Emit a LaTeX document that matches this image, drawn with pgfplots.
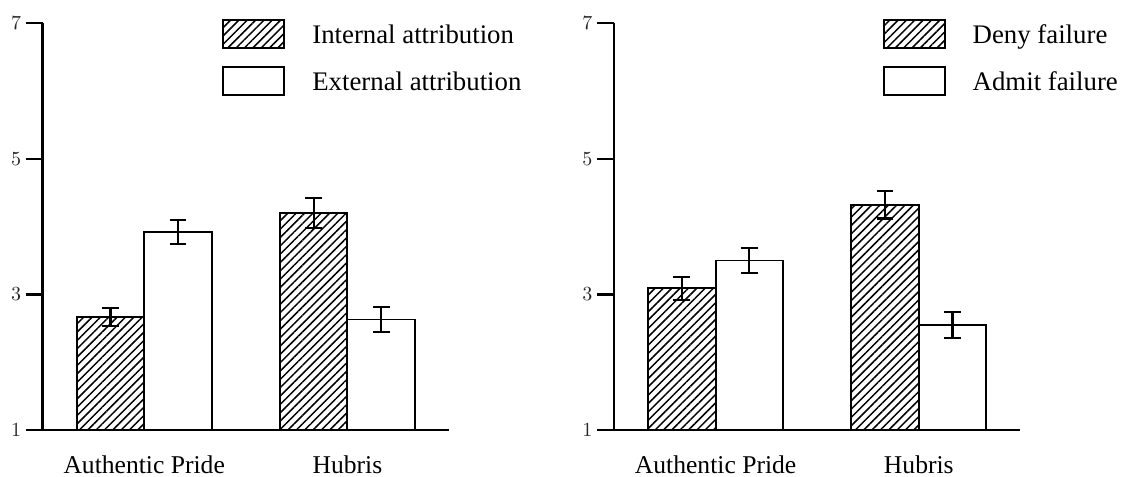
\documentclass[border=0pt]{standalone}
\usepackage{pgfplots}
\pgfplotsset{compat=1.18}
\usepackage{fontspec}
\setmainfont{Liberation Serif}
\usetikzlibrary{patterns.meta}

\pgfplotsset{
  prideaxis/.style={
    scale only axis,
    width=203.2pt, height=203.35pt,
    anchor=south west,
    xmin=-0.5, xmax=1.5,
    ymin=1, ymax=7,
    ytick={1,3,5,7},
    xtick={0,1},
    xticklabels={Authentic Pride, Hubris},
    axis x line*=bottom,
    axis y line*=left,
    axis line style={line width=1.1pt, black},
    tick align=outside,
    major tick length=8.35pt,
    ytick style={line width=1.1pt, black},
    xtick style={draw=none},
    yticklabel style={font=\fontsize{10}{12}\selectfont, color=black!85, xshift=1.1pt},
    xticklabel style={font=\fontsize{12.8}{15}\selectfont, anchor=base, inner sep=0pt, yshift=-13.3pt},
    ybar=0pt, bar width=33.75pt,
    axis on top,
    legend cell align=left,
    legend image code/.code={
      \draw[##1] (0pt,-7pt) rectangle (30.5pt,7pt);
    },
    legend style={
      font=\fontsize{13.4}{16}\selectfont,
      draw=none, fill=none, inner sep=0pt, outer sep=0pt,
      anchor=north west,
      row sep=8.6pt,
      nodes={inner sep=0pt, text depth=0pt},
      /tikz/every odd column/.append style={column sep=13.6pt},
    },
  },
  hatchbar/.style={draw=black, line width=0.95pt,
    pattern={Lines[angle=45, distance=2.95pt, line width=0.75pt]},
    error bars/.cd, y dir=both, y explicit,
    error bar style={line width=1.1pt, black},
    error mark options={rotate=90, mark size=4.2pt, line width=1.1pt, black}},
  whitebar/.style={draw=black, line width=0.95pt, fill=white,
    error bars/.cd, y dir=both, y explicit,
    error bar style={line width=1.1pt, black},
    error mark options={rotate=90, mark size=4.2pt, line width=1.1pt, black}},
}

\begin{document}
\begin{tikzpicture}
\useasboundingbox (0,0) rectangle (561.5pt,238pt);

\begin{axis}[prideaxis, at={(21.3pt,23pt)},
  legend style={at={(0.442,1.0106)}}]
\addplot[hatchbar] coordinates {(0,2.67) +- (0,0.13) (1,4.20) +- (0,0.22)};
\addlegendentry{Internal attribution}
\addplot[whitebar] coordinates {(0,3.92) +- (0,0.18) (1,2.63) +- (0,0.19)};
\addlegendentry{External attribution}
\end{axis}

\begin{axis}[prideaxis, at={(307pt,23pt)},
  legend style={at={(0.661,1.0106)}}]
\addplot[hatchbar] coordinates {(0,3.09) +- (0,0.17) (1,4.32) +- (0,0.20)};
\addlegendentry{Deny failure}
\addplot[whitebar] coordinates {(0,3.50) +- (0,0.18) (1,2.55) +- (0,0.19)};
\addlegendentry{Admit failure}
\end{axis}
\end{tikzpicture}
\end{document}
